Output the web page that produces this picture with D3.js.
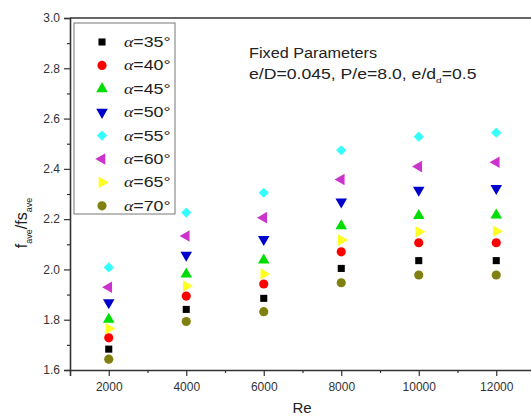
<!DOCTYPE html>
<html>
<head>
<meta charset="utf-8">
<script src="https://d3js.org/d3.v7.min.js"></script>
<style>
  body { margin: 0; background: #fff; }
  text { font-family: "Liberation Sans", Arial, sans-serif; }
</style>
</head>
<body>
<div id="chart"></div>
<script>
// x values (Re)
var reValues = [2000, 4000, 6000, 8000, 10000, 12000];
var xTicks = [2000, 4000, 6000, 8000, 10000, 12000];
var yTicks = [1.6, 1.8, 2.0, 2.2, 2.4, 2.6, 2.8, 3.0];

// series, one per angle
var angles = [35, 40, 45, 50, 55, 60, 65, 70];
var a35 = [1.683, 1.841, 1.885, 2.004, 2.035, 2.035];
var a40 = [1.728, 1.894, 1.942, 2.070, 2.106, 2.106];
var a45 = [1.801, 1.981, 2.037, 2.173, 2.214, 2.216];
var a50 = [1.868, 2.057, 2.120, 2.269, 2.316, 2.323];
var a55 = [2.008, 2.226, 2.305, 2.474, 2.528, 2.544];
var a60 = [1.929, 2.133, 2.206, 2.358, 2.409, 2.426];
var a65 = [1.764, 1.934, 1.982, 2.117, 2.150, 2.152];
var a70 = [1.643, 1.793, 1.832, 1.947, 1.978, 1.978];
var seriesValues = [a35, a40, a45, a50, a55, a60, a65, a70];

// marker looks
var colors = ['#000000', '#ff0000', '#00dd00', '#0000cc', '#33ffff', '#cc33cc', '#ffff22', '#808010'];
var shapes = ['square', 'circle', 'up', 'down', 'diamond', 'left', 'right', 'circle'];

var W = 531, H = 419;
var xLeft = 70, xRight = 535, yTop = 18, yBottom = 370;

var svg = d3.select('#chart').append('svg')
  .attr('width', W).attr('height', H);

var x = d3.scaleLinear().domain([1000, 13000]).range([xLeft, xRight]);
var y = d3.scaleLinear().domain([1.6, 3.0]).range([yBottom, yTop]);

var axisColor = '#333';

// marker path for a shape
var marker = function(shape) {
  var s;
  if (shape == 'square') s = d3.symbol(d3.symbolSquare, 50);
  else if (shape == 'circle') s = d3.symbol(d3.symbolCircle, 66);
  else if (shape == 'diamond') s = d3.symbol(d3.symbolSquare, 52);
  else s = d3.symbol(d3.symbolTriangle, 58);
  return s();
};
var rotation = function(shape) {
  if (shape == 'down') return 180;
  if (shape == 'left') return -90;
  if (shape == 'right') return 90;
  if (shape == 'diamond') return 45;
  return 0;
};

// frame line on top
svg.append('line').attr('x1', xLeft).attr('x2', W).attr('y1', yTop).attr('y2', yTop)
  .attr('stroke', axisColor).attr('stroke-width', 1.6);

// x axis
svg.append('g').attr('transform', 'translate(0,' + yBottom + ')')
  .call(d3.axisBottom(x).tickValues(xTicks).tickSize(6).tickPadding(6).tickFormat(d3.format('d')));
svg.append('g').attr('transform', 'translate(0,' + yBottom + ')')
  .call(d3.axisBottom(x).tickValues([3000, 5000, 7000, 9000, 11000]).tickSize(3).tickFormat(''))
  .select('.domain').remove();

// y axis
svg.append('g').attr('transform', 'translate(' + xLeft + ',0)')
  .call(d3.axisLeft(y).tickValues(yTicks).tickSize(6).tickPadding(4).tickFormat(d3.format('.1f')));
svg.append('g').attr('transform', 'translate(' + xLeft + ',0)')
  .call(d3.axisLeft(y).tickValues([1.7, 1.9, 2.1, 2.3, 2.5, 2.7, 2.9]).tickSize(3).tickFormat(''))
  .select('.domain').remove();

svg.selectAll('.domain').attr('stroke', axisColor).attr('stroke-width', 1.6);
svg.selectAll('.tick line').attr('stroke', axisColor).attr('stroke-width', 1.2);
svg.selectAll('.tick text').attr('fill', '#333').attr('font-size', '12px')
  .attr('font-family', '"Liberation Sans", Arial, sans-serif');

// axis titles
svg.append('text').attr('x', 302).attr('y', 413).attr('text-anchor', 'middle')
  .attr('font-size', '15px').attr('fill', '#222').text('Re');

var yl = svg.append('text').attr('transform', 'translate(27,223) rotate(-90)')
  .attr('text-anchor', 'middle').attr('font-size', '16px').attr('fill', '#222');
yl.append('tspan').text('f');
yl.append('tspan').attr('font-size', '9px').attr('dy', 5).text('ave');
yl.append('tspan').attr('dy', -5).text('/fs');
yl.append('tspan').attr('font-size', '9px').attr('dy', 5).text('ave');

// data points
angles.forEach(function(a, i) {
  svg.append('g').selectAll('path')
    .data(seriesValues[i])
    .enter().append('path')
    .attr('d', marker(shapes[i]))
    .attr('transform', function(d, j) {
      return 'translate(' + x(reValues[j]) + ',' + y(d) + ') rotate(' + rotation(shapes[i]) + ')';
    })
    .attr('fill', colors[i]);
});

// legend
var lg = svg.append('g');
lg.append('rect').attr('x', 74).attr('y', 23).attr('width', 101).attr('height', 191)
  .attr('fill', '#fff').attr('stroke', '#777').attr('stroke-width', 1);
angles.forEach(function(a, i) {
  var ly = 42 + i * 23.4;
  lg.append('path').attr('d', marker(shapes[i]))
    .attr('transform', 'translate(102,' + ly + ') rotate(' + rotation(shapes[i]) + ')')
    .attr('fill', colors[i]);
  var t = lg.append('text').attr('transform', 'translate(124,' + (ly + 5) + ') scale(1.27,1)')
    .attr('font-size', '14px').attr('fill', '#222');
  t.append('tspan').attr('font-family', '"Liberation Serif", serif').attr('font-style', 'italic').text('\u03b1');
  t.append('tspan').text('=' + a + '\u00b0');
});

// annotation
svg.append('text').attr('transform', 'translate(249,58) scale(1.16,1)')
  .attr('font-size', '14px').attr('fill', '#222')
  .text('Fixed Parameters');
var ann = svg.append('text').attr('transform', 'translate(249,79) scale(1.26,1)')
  .attr('font-size', '14px').attr('fill', '#222');
ann.append('tspan').text('e/D=0.045, P/e=8.0, e/d');
ann.append('tspan').attr('font-size', '8px').attr('dy', 4).text('d');
ann.append('tspan').attr('dy', -4).text('=0.5');
</script>
</body>
</html>
